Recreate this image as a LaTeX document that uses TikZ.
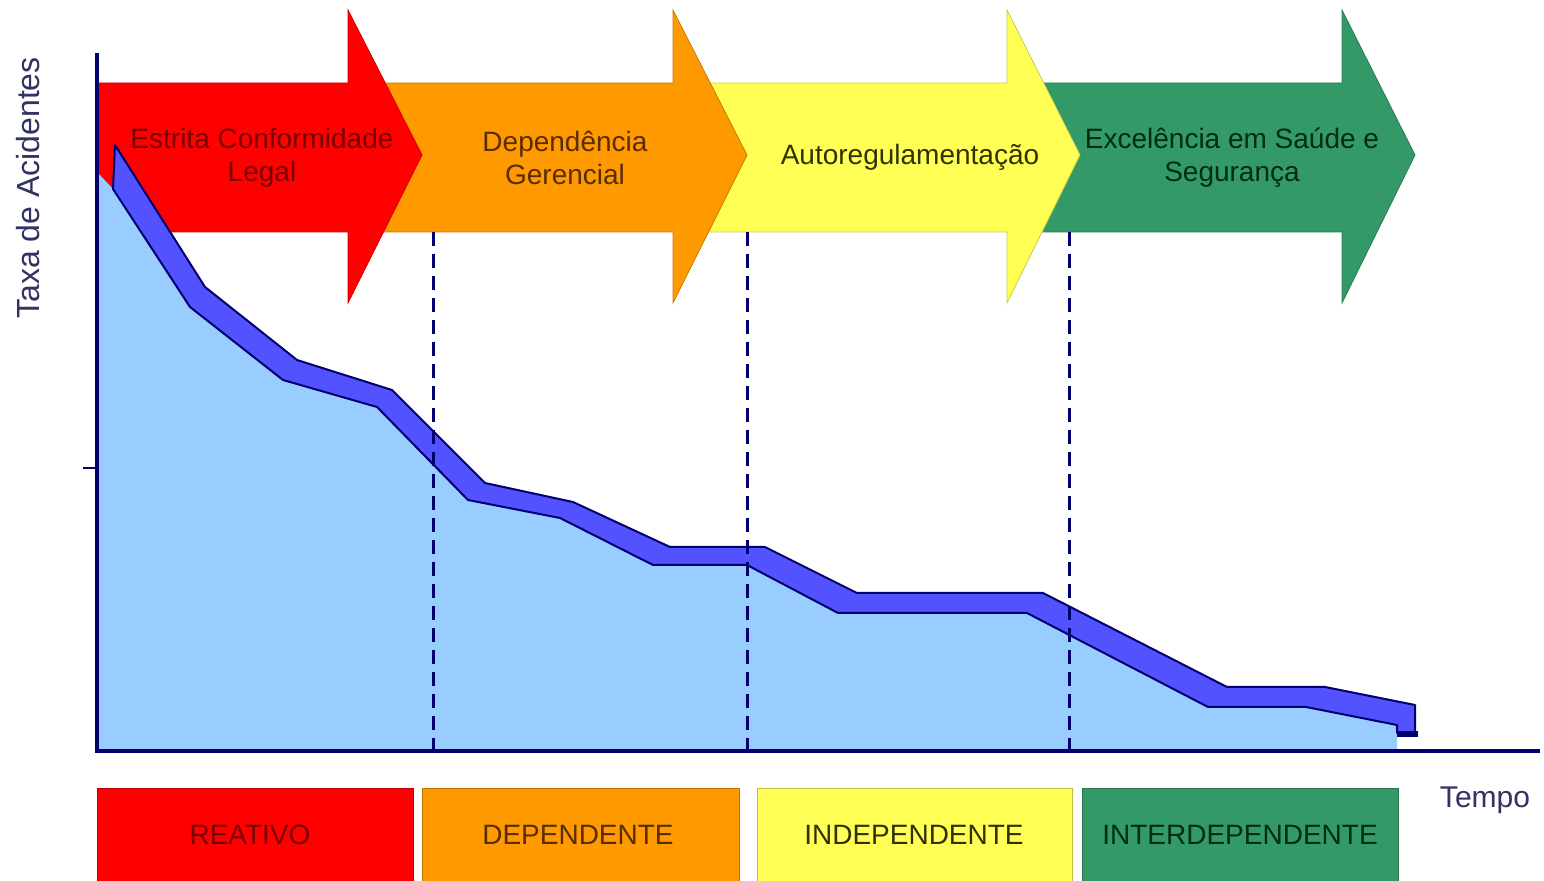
\documentclass[tikz,border=0pt]{standalone}
\usepackage{fontspec}
\setmainfont{Liberation Sans}
\definecolor{cRed}{RGB}{255,0,0}
\definecolor{cOrange}{RGB}{255,153,0}
\definecolor{cYellow}{RGB}{255,255,85}
\definecolor{cGreen}{RGB}{51,153,102}
\definecolor{cLight}{RGB}{153,204,255}
\definecolor{cBand}{RGB}{82,82,255}
\definecolor{cNavy}{RGB}{0,0,110}
\definecolor{tRed}{RGB}{120,0,0}
\definecolor{tOrange}{RGB}{90,45,0}
\definecolor{tYellow}{RGB}{50,50,0}
\definecolor{tGreen}{RGB}{0,45,20}
\definecolor{tAxis}{RGB}{50,50,100}
\newcommand\phasearrow[4]{\filldraw[fill=#4, draw=#4!80!black, line width=0.4pt] (#1,83) -- (#2,83) -- (#2,10) -- (#3,155) -- (#2,303) -- (#2,232) -- (#1,232) -- cycle;}
\begin{document}
\begin{tikzpicture}[x=0.5pt,y=-0.5pt,
  arrowtext/.style={align=center, font=\fontsize{14}{16.5}\selectfont, inner sep=0pt},
  boxtext/.style={font=\fontsize{14}{16}\selectfont, inner sep=0pt},
  phasebox/.style={draw=#1!75!black, line width=0.5pt, fill=#1},
  divider/.style={cNavy, line width=1.5pt, dash pattern=on 7pt off 4pt},
  axisline/.style={cNavy, line width=2pt}]
\useasboundingbox (0,0) rectangle (1544,881);
\fill[white] (0,0) rectangle (1544,881);
% phase arrows (back to front)
\phasearrow{1040}{1342}{1415}{cGreen}
\phasearrow{710}{1007}{1080}{cYellow}
\phasearrow{380}{673}{747}{cOrange}
\phasearrow{97}{348}{422}{cRed}
\node[arrowtext, text=tRed] (a1) at (262,158) {Estrita Conformidade\\Legal};
\node[arrowtext, text=tOrange] (a2) at (565,158) {Dependência\\Gerencial};
\node[arrowtext, text=tYellow] (a3) at (910,157) {Autoregulamentação};
\node[arrowtext, text=tGreen] (a4) at (1232,158) {Excelência em Saúde e\\Segurança};
% area under the curve
\fill[cLight] (97,172) -- (113,189) -- (190,307) -- (283,380) -- (377,407) -- (468,500) -- (560,518) -- (653,565) -- (747,565) -- (838,613) -- (1027,613) -- (1208,707) -- (1306,707) -- (1397,725) -- (1397,751) -- (97,751) -- cycle;
% band
\filldraw[fill=cBand, draw=cNavy, line width=1pt, line join=round]
  (115,145) -- (205,287) -- (297,360) -- (392,390) -- (485,483) -- (573,502) -- (670,547) -- (765,547) -- (857,593) -- (1043,593) -- (1227,687) -- (1325,687) -- (1415,705) -- (1415,733) -- (1397,733) -- (1397,725)
  -- (1306,707) -- (1208,707) -- (1027,613) -- (838,613) -- (747,565) -- (653,565) -- (560,518) -- (468,500) -- (377,407) -- (283,380) -- (190,307) -- (113,189) -- cycle;
\fill[cNavy] (1397,731) rectangle (1418,737);
% dividers
\coordinate (d1t) at (433,232); \coordinate (d1b) at (433,751);
\coordinate (d2t) at (747,232); \coordinate (d2b) at (747,751);
\coordinate (d3t) at (1069,232); \coordinate (d3b) at (1069,751);
\draw[divider] (d1t) -- (d1b);
\draw[divider] (d2t) -- (d2b);
\draw[divider] (d3t) -- (d3b);
% axes
\coordinate (ytop) at (97,53); \coordinate (orig) at (97,751); \coordinate (xend) at (1540,751);
\draw[axisline] (ytop) -- (orig) -- (xend);
\coordinate (tk) at (83,468); \coordinate (tk2) at (97,468);
\draw[cNavy, line width=0.8pt] (tk) -- (tk2);
\node[rotate=90, font=\fontsize{16}{19}\selectfont, text=tAxis, inner sep=0pt] (ylab) at (28,188) {Taxa de Acidentes};
\node[font=\fontsize{15}{18}\selectfont, text=tAxis, inner sep=0pt] (xlab) at (1485,800) {Tempo};
% bottom boxes
\draw[phasebox=cRed] (97,789) rectangle (413,884);
\draw[phasebox=cOrange] (422,789) rectangle (739,884);
\draw[phasebox=cYellow] (757,789) rectangle (1072,884);
\draw[phasebox=cGreen] (1082,789) rectangle (1398,884);
\node[boxtext, text=tRed] (b1) at (250,835) {REATIVO};
\node[boxtext, text=tOrange] (b2) at (578,835) {DEPENDENTE};
\node[boxtext, text=tYellow] (b3) at (914,835) {INDEPENDENTE};
\node[boxtext, text=tGreen] (b4) at (1240,835) {INTERDEPENDENTE};
\end{tikzpicture}
\end{document}
